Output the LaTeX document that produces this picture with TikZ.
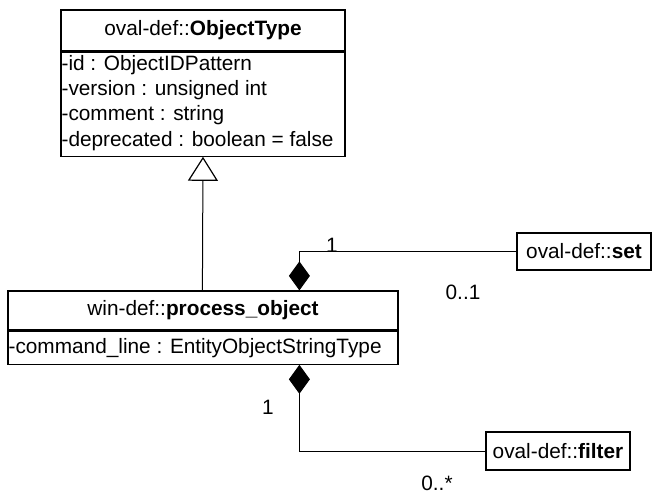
\documentclass[tikz,border=0pt]{standalone}
\usepackage{fontspec}
\setmainfont{Liberation Sans}
\usetikzlibrary{arrows.meta,calc}
\begin{document}
\begin{tikzpicture}[x=1pt,y=-1pt,
  box/.style={draw,line width=1.2pt,inner sep=0pt,font=\fontsize{20.8}{25.3}\selectfont},
  txt/.style={inner xsep=1pt,inner ysep=3.5pt,align=left,font=\fontsize{20.8}{25.3}\selectfont},
  lbl/.style={inner sep=0pt,font=\fontsize{20.8}{25.3}\selectfont},
  conn/.style={line width=1pt},
  gen/.style={-{Triangle[open,length=24pt,width=30pt,line width=1.2pt,fill=white]}},
  comp/.style={{Diamond[length=29pt,width=21pt]}-}]
\useasboundingbox (0,0) rectangle (654,495);
% ObjectType
\node[box,minimum width=284pt,minimum height=41pt] (oth) at (203,30.5) {oval-def::\textbf{ObjectType}};
\node[box,minimum width=284pt,minimum height=104pt,anchor=north] (ota) at (oth.south) {};
\node[txt,anchor=north west] (otat) at (ota.north west) {-id : ObjectIDPattern\\-version : unsigned int\\-comment : string\\-deprecated : boolean = false};
% process_object
\node[box,minimum width=390pt,minimum height=39pt] (poh) at (203,310.5) {win-def::\textbf{process\_object}};
\node[box,minimum width=390pt,minimum height=33pt,anchor=north] (poa) at (poh.south) {};
\node[txt,anchor=west] (poat) at (poa.west) {-command\_line : EntityObjectStringType};
% set and filter
\node[box,minimum width=134pt,minimum height=37pt] (set) at (584,251.5) {oval-def::\textbf{set}};
\node[box,minimum width=144pt,minimum height=38pt] (filter) at (558,451) {oval-def::\textbf{filter}};
% connection points
\coordinate (pgen) at ($(poh.north west)+(195,0)$);
\coordinate (pset) at ($(poh.north west)+(292,0)$);
\coordinate (pfil) at ($(poa.south west)+(292,0)$);
% connectors
\draw[conn,gen] (pgen) -- (ota.south);
\draw[conn,comp] (pset) |- (set.west);
\draw[conn,comp] (pfil) |- (filter.west);
% labels
\node[lbl] (l1) at (332,245) {1};
\node[lbl] (l2) at (463,292) {0..1};
\node[lbl] (l3) at (268,407) {1};
\node[lbl] (l4) at (437,483) {0..*};
\end{tikzpicture}
\end{document}
